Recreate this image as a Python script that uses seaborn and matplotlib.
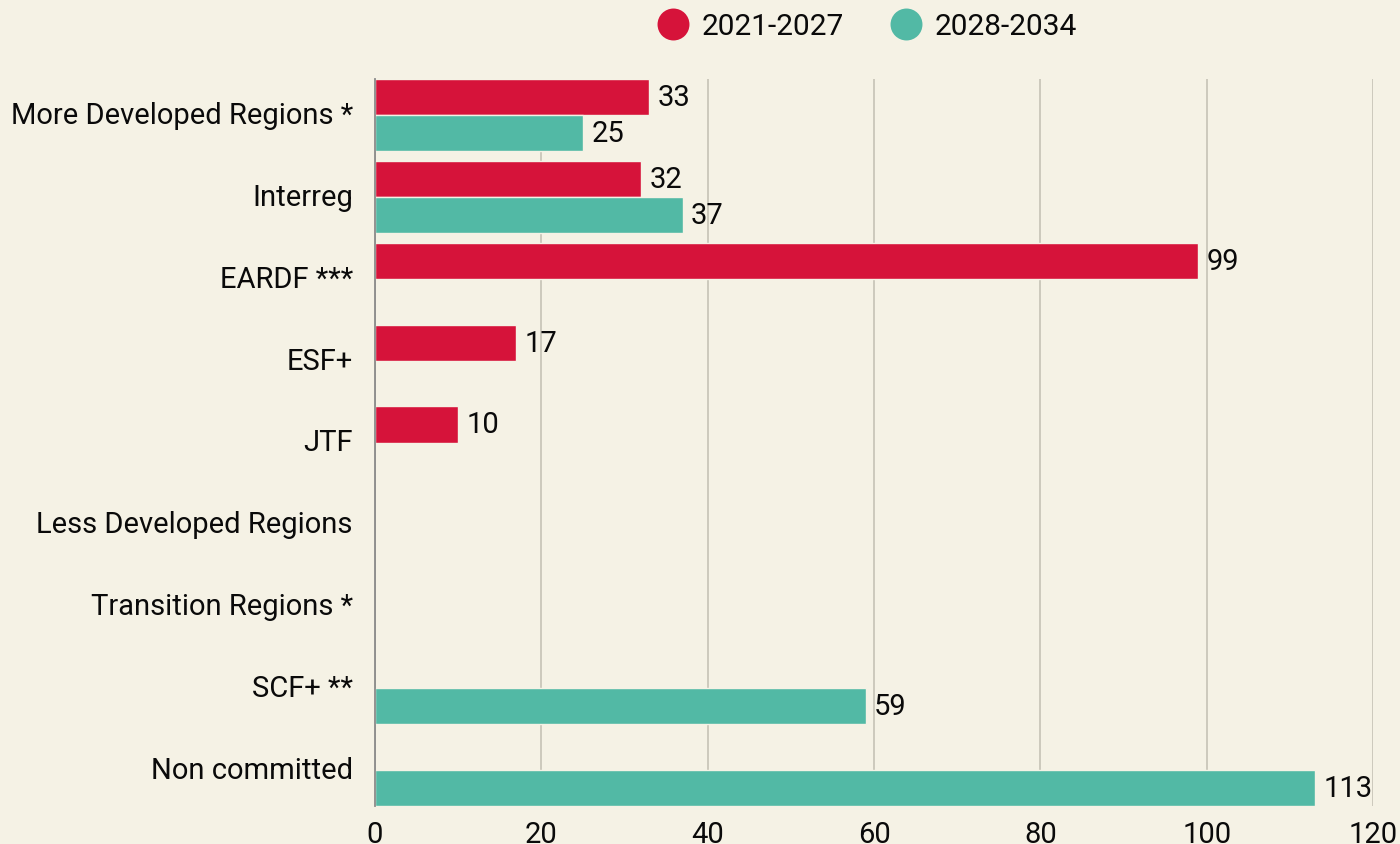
import matplotlib
matplotlib.use("Agg")
import matplotlib.pyplot as plt
from matplotlib.lines import Line2D
from matplotlib.transforms import ScaledTranslation
import seaborn as sns
import numpy as np
import pandas as pd

categories = ["More Developed Regions *", "Interreg", "EARDF ***", "ESF+", "JTF",
              "Less Developed Regions", "Transition Regions *", "SCF+ **", "Non committed"]
periods = ["2021-2027", "2028-2034"]
vals_2021 = [33, 32, 99, 17, 10, np.nan, np.nan, np.nan, np.nan]
vals_2028 = [25, 37, np.nan, np.nan, np.nan, np.nan, np.nan, 59, 113]
colors = ["#D6133A", "#52B9A5"]
bg = "#F5F2E5"
ink = "#0A0A0A"

df = pd.DataFrame({
    "category": categories * 2,
    "period": [periods[0]] * len(categories) + [periods[1]] * len(categories),
    "value": vals_2021 + vals_2028,
}).dropna()

sns.set_theme(style="white")
plt.rcParams["font.family"] = ["Roboto", "DejaVu Sans"]

fig = plt.figure(figsize=(14, 8.45), dpi=100, facecolor=bg)
ax = fig.add_axes([375 / 1400, 1 - 807 / 845, (1373 - 375) / 1400, (807 - 80) / 845])
ax.set_facecolor(bg)

width = 0.88
sns.barplot(data=df, x="value", y="category", hue="period", order=categories,
            hue_order=periods, palette=colors, orient="h", width=width,
            edgecolor=bg, linewidth=1, saturation=1, ax=ax, legend=False)

for cont in ax.containers:
    ax.bar_label(cont, fmt="%d", padding=6, fontsize=21, color=ink)

ax.set_xlim(0, 120)
ax.set_xticks(range(0, 121, 20))
ax.set_ylim(len(categories) - 1 + width / 2, -width / 2)
ax.set_xlabel("")
ax.set_ylabel("")
ax.xaxis.grid(True, color="#C9C6B9", linewidth=1.3)
ax.set_axisbelow(True)
for s in ["top", "right", "bottom"]:
    ax.spines[s].set_visible(False)
ax.spines["left"].set_color("#8A8A8A")
ax.spines["left"].set_linewidth(1.3)
ax.tick_params(axis="x", length=0, pad=10, labelsize=21, labelcolor=ink)
ax.tick_params(axis="y", length=0, pad=16, labelsize=21, labelcolor=ink)

# nudge category labels slightly upward like the original
shift = ScaledTranslation(0, 3 / 100, fig.dpi_scale_trans)
for lbl in ax.get_yticklabels():
    lbl.set_transform(lbl.get_transform() + shift)

handles = [Line2D([0], [0], marker="o", color="none", markerfacecolor=c,
                  markeredgecolor="none", markersize=23) for c in colors]
fig.legend(handles, periods, loc="center", bbox_to_anchor=(866 / 1400, 1 - 27 / 845),
           ncol=2, frameon=False, fontsize=21.5, handletextpad=0.35, columnspacing=1.5,
           handlelength=1.2, labelcolor=ink)

fig.savefig("out.png", dpi=100, facecolor=bg)
